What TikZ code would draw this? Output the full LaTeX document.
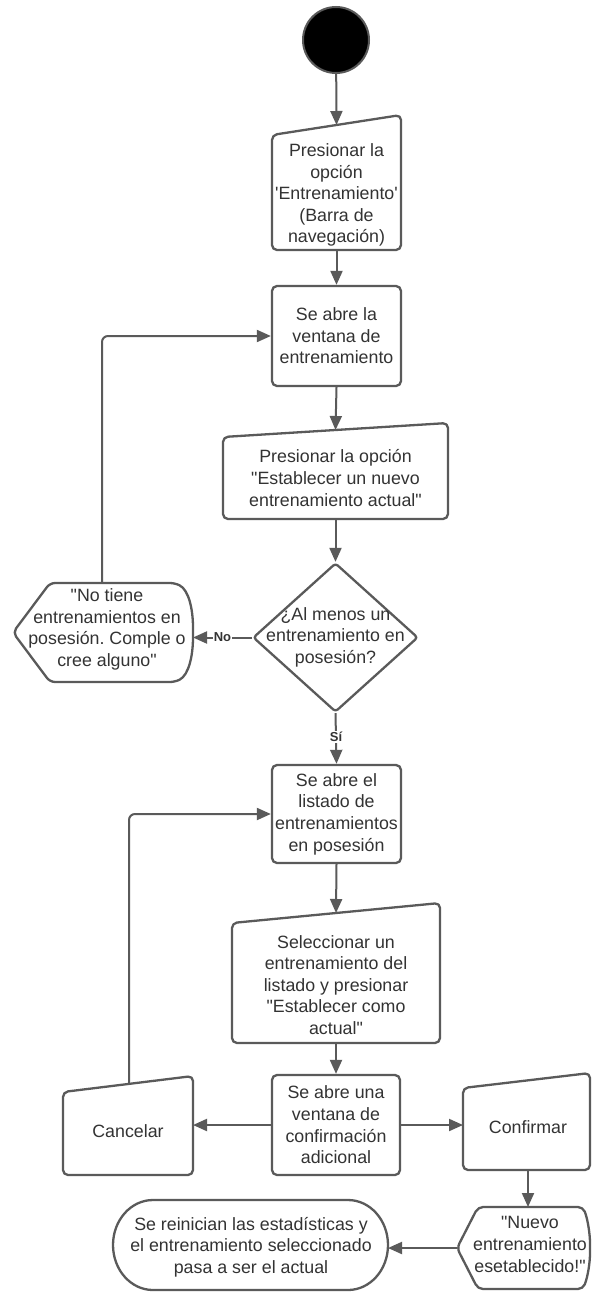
\documentclass[tikz,border=0pt]{standalone}
\usetikzlibrary{arrows.meta,shapes.geometric}
% plain XeTeX fonts: keeps straight quotes as typed
\font\mainf="Liberation Sans" at 17.8pt
\font\lblf="Liberation Sans/B" at 13pt
\definecolor{edge}{HTML}{5A5A5A}
\definecolor{ink}{HTML}{333333}

\begin{document}
\begin{tikzpicture}[x=1pt,y=-1pt,
  body/.style={font={\mainf\frenchspacing\baselineskip=21.6pt\relax}, text=ink, align=center, inner sep=0pt},
  shp/.style={draw=edge, line width=2.3pt, line join=round, rounded corners=5pt},
  box/.style={body, shp, minimum width=129pt, minimum height=100pt},
  flow/.style={draw=edge, line width=2pt, -{Triangle[length=14pt,width=12pt]}},
  lbl/.style={font=\lblf, text=ink, fill=white, inner sep=1pt}
]
\fill[white] (0,0) rectangle (592,1292);
\useasboundingbox (0,0) rectangle (592,1292);

% start
\node[circle, fill=black, draw=edge, line width=2pt, minimum size=66pt, inner sep=0pt] (start) at (336,40) {};

% manual step: menu option
\draw[shp] (272,250) -- (272,135) -- (401,115) -- (401,250) -- cycle;
\node[body] (b1) at (336.5,195) {Presionar la\\opción\\'Entrenamiento'\\(Barra de\\navegación)};
\coordinate (b1in) at (336.5,125);
\coordinate (b1out) at (336.5,250);

% training window
\node[box] (b2) at (336.5,336) {Se abre la\\ventana de\\entrenamiento};

% manual step: set new current training
\draw[shp] (223,519) -- (223,437) -- (448,423) -- (448,519) -- cycle;
\node[body] (b3) at (335.5,478) {Presionar la opción\\"Establecer un nuevo\\entrenamiento actual"};
\coordinate (b3in) at (335.5,430);
\coordinate (b3out) at (335.5,519);

% decision
\node[diamond, draw=edge, line width=2.3pt, line join=round, rounded corners=3pt, minimum width=165pt, minimum height=149pt, inner sep=0pt] (dec) at (335.5,637.5) {};
\node[body] (dect) at (335.5,637) {¿Al menos un\\entrenamiento en\\posesión?};

% display: no trainings
\draw[shp] (13,632.5) -- (50,583) -- (175,583)
  .. controls (189,590) and (193,610) .. (193,632.5)
  .. controls (193,655) and (189,675) .. (175,682)
  -- (50,682) -- cycle;
\node[body] (h1) at (107,629.5) {"No tiene\\entrenamientos en\\posesión. Comple o\\cree alguno"};
\coordinate (h1top) at (102,583);
\coordinate (h1right) at (193,637.5);

% list of owned trainings
\node[box, minimum height=98pt] (b4) at (336.5,814) {Se abre el\\listado de\\entrenamientos\\en posesión};

% manual step: pick a training
\draw[shp] (232,1043) -- (232,923) -- (440,903) -- (440,1043) -- cycle;
\node[body] (b5) at (336,985) {Seleccionar un\\entrenamiento del\\listado y presionar\\"Establecer como\\actual"};
\coordinate (b5in) at (336,913);
\coordinate (b5out) at (336,1043);

% confirmation window
\node[box, minimum width=128pt] (b6) at (336,1125) {Se abre una\\ventana de\\confirmación\\adicional};

% manual step: cancel
\draw[shp] (63,1175) -- (63,1092) -- (193,1076) -- (193,1175) -- cycle;
\node[body] (can) at (128,1131) {Cancelar};
\coordinate (cantop) at (129,1084);
\coordinate (canright) at (193,1125);

% manual step: confirm
\draw[shp] (463,1170) -- (463,1088) -- (590,1073) -- (590,1170) -- cycle;
\node[body] (conf) at (528,1127) {Confirmar};
\coordinate (confleft) at (463,1125);
\coordinate (confbot) at (528,1170);

% display: new training set
\draw[shp] (457,1248) -- (478,1207) -- (583,1207)
  .. controls (588,1220) and (590,1235) .. (590,1248)
  .. controls (590,1262) and (588,1276) .. (583,1289)
  -- (478,1289) -- cycle;
\node[body] (h2) at (530,1244.5) {"Nuevo\\entrenamiento\\esetablecido!"};
\coordinate (h2top) at (528,1207);
\coordinate (h2left) at (457,1248);

% terminal
\draw[draw=edge, line width=2.3pt] (153,1200) -- (348,1200)
  .. controls (370,1200) and (388,1220) .. (388,1245)
  .. controls (388,1270) and (370,1290) .. (348,1290)
  -- (153,1290)
  .. controls (131,1290) and (113,1270) .. (113,1245)
  .. controls (113,1220) and (131,1200) .. cycle;
\node[body] (term) at (251,1247) {Se reinician las estadísticas y\\el entrenamiento seleccionado\\pasa a ser el actual};
\coordinate (termright) at (388,1248);

% connectors
\draw[flow] (start) -- (b1in);
\draw[flow] (b1out) -- (b2.north);
\draw[flow] (b2.south) -- (b3in);
\draw[flow] (b3out) -- (dec.north);
\draw[flow] (dec.west) -- (h1right) node[lbl, pos=0.5] {No};
\draw[flow, rounded corners=6pt] (h1top) |- (b2.west);
\draw[flow] (dec.south) -- (b4.north) node[lbl, pos=0.47] {Sí};
\draw[flow] (b4.south) -- (b5in);
\draw[flow] (b5out) -- (b6.north);
\draw[flow] (b6.west) -- (canright);
\draw[flow, rounded corners=6pt] (cantop) |- (b4.west);
\draw[flow] (b6.east) -- (confleft);
\draw[flow] (confbot) -- (h2top);
\draw[flow] (h2left) -- (termright);
\end{tikzpicture}
\end{document}
